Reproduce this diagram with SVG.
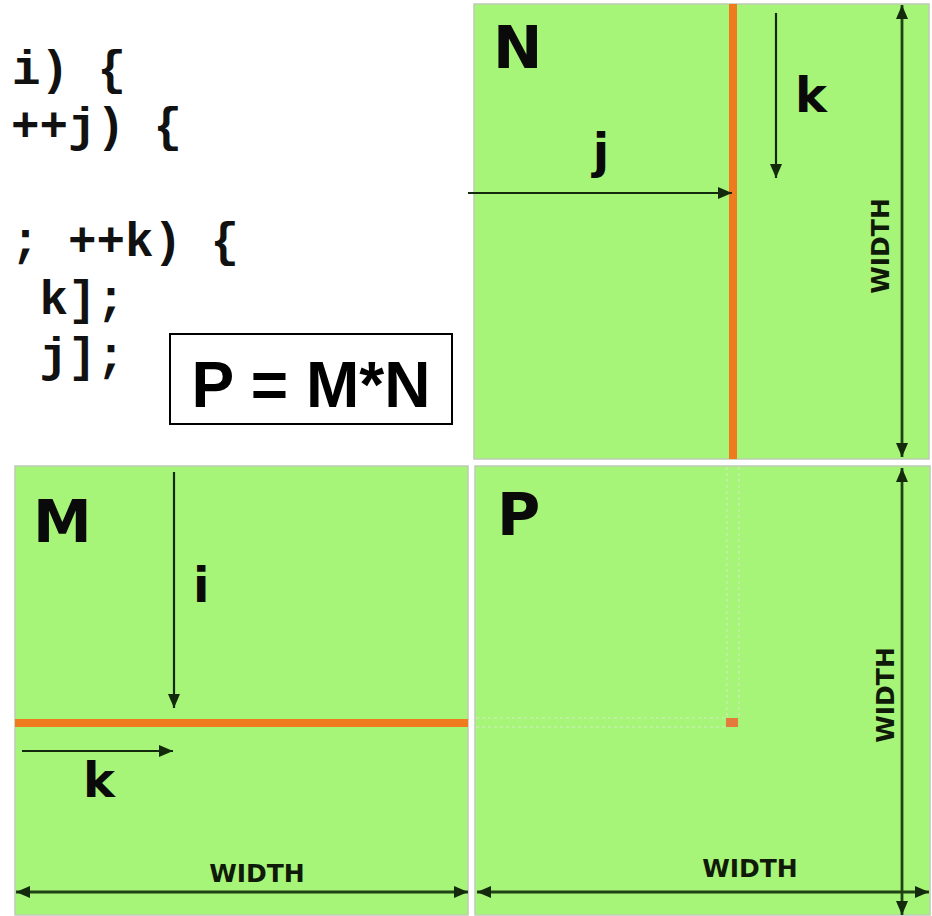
<svg xmlns="http://www.w3.org/2000/svg" width="932" height="916" viewBox="0 0 932 916">
<style>
.code{font-family:"Liberation Mono","Courier New",monospace;font-weight:bold;font-size:47.5px;fill:#111;}
.mat{fill:#a7f578;stroke:#bcccb2;stroke-width:1.5;}
.lbl{font-family:"DejaVu Sans",Verdana,sans-serif;font-weight:bold;fill:#0a0a0a;}
.big{font-size:59px;}
.idx{font-size:48px;}
.wd{font-size:25px;text-anchor:middle;fill:#101a08;}
.orange{stroke:#f07a1e;stroke-width:8;}
.arr{stroke:#142a0c;stroke-width:2.2;fill:none;marker-end:url(#ah);}
.dim{stroke:#1f4314;stroke-width:2.8;fill:none;marker-start:url(#ah2);marker-end:url(#ah2);}
.dot{stroke:#d4ecc4;stroke-width:1;stroke-dasharray:3 3;fill:none;}
</style>
<defs>
<marker id="ah" markerUnits="userSpaceOnUse" markerWidth="14" markerHeight="12" refX="14" refY="6" orient="auto-start-reverse"><path d="M0,0 L14,6 L0,12 z" fill="#142a0c"/></marker>
<marker id="ah2" markerUnits="userSpaceOnUse" markerWidth="14" markerHeight="12" refX="14" refY="6" orient="auto-start-reverse"><path d="M0,0 L14,6 L0,12 z" fill="#142a0c"/></marker>
</defs>
<rect width="932" height="916" fill="#ffffff"/>
<g id="code">
<text class="code" x="12" y="84">i) {</text>
<text class="code" x="11" y="141">++j) {</text>
<text class="code" x="11" y="256">; ++k) {</text>
<text class="code" x="39.5" y="314">k];</text>
<text class="code" x="39.5" y="371">j];</text>
</g>
<g id="formula">
<rect x="170" y="334" width="282" height="90" fill="#ffffff" stroke="#000" stroke-width="2"/>
<text x="311" y="407" text-anchor="middle" font-family="'Liberation Sans',Arial,sans-serif" font-weight="bold" font-size="64" fill="#000">P = M*N</text>
</g>
<g id="matrixN">
<rect class="mat" x="474" y="4" width="455" height="455"/>
<line class="orange" x1="733" y1="4" x2="733" y2="459"/>
<text class="lbl big" x="493" y="68">N</text>
<text class="lbl idx" x="601" y="168" text-anchor="middle">j</text>
<text class="lbl idx" x="795" y="112">k</text>
<text class="lbl wd" transform="translate(889,246) rotate(-90)">WIDTH</text>
</g>
<g id="matrixM">
<rect class="mat" x="15" y="466" width="453" height="449"/>
<line class="orange" x1="15" y1="723" x2="468" y2="723"/>
<text class="lbl big" x="33" y="542">M</text>
<text class="lbl idx" x="193" y="602">i</text>
<text class="lbl idx" x="83" y="797">k</text>
<text class="lbl wd" x="257" y="882">WIDTH</text>
</g>
<g id="matrixP">
<rect class="mat" x="475" y="466" width="455" height="449"/>
<line class="dot" x1="727" y1="467" x2="727" y2="717"/>
<line class="dot" x1="739" y1="467" x2="739" y2="717"/>
<line class="dot" x1="476" y1="718" x2="725" y2="718"/>
<line class="dot" x1="476" y1="727" x2="725" y2="727"/>
<rect x="726" y="718" width="12" height="9" fill="#e57a3e"/>
<text class="lbl big" x="497" y="535">P</text>
<text class="lbl wd" transform="translate(894,695) rotate(-90)">WIDTH</text>
<text class="lbl wd" x="750" y="877">WIDTH</text>
</g>
<g id="connectors">
<line class="arr" x1="468" y1="193" x2="732" y2="193"/>
<line class="arr" x1="776" y1="13" x2="776" y2="178"/>
<line class="dim" x1="902" y1="5" x2="902" y2="457"/>
<line class="arr" x1="174" y1="472" x2="174" y2="708"/>
<line class="arr" x1="22" y1="751" x2="173" y2="751"/>
<line class="dim" x1="16" y1="892" x2="468" y2="892"/>
<line class="dim" x1="902" y1="468" x2="902" y2="915"/>
<line class="dim" x1="477" y1="892" x2="929" y2="892"/>
</g>
</svg>
